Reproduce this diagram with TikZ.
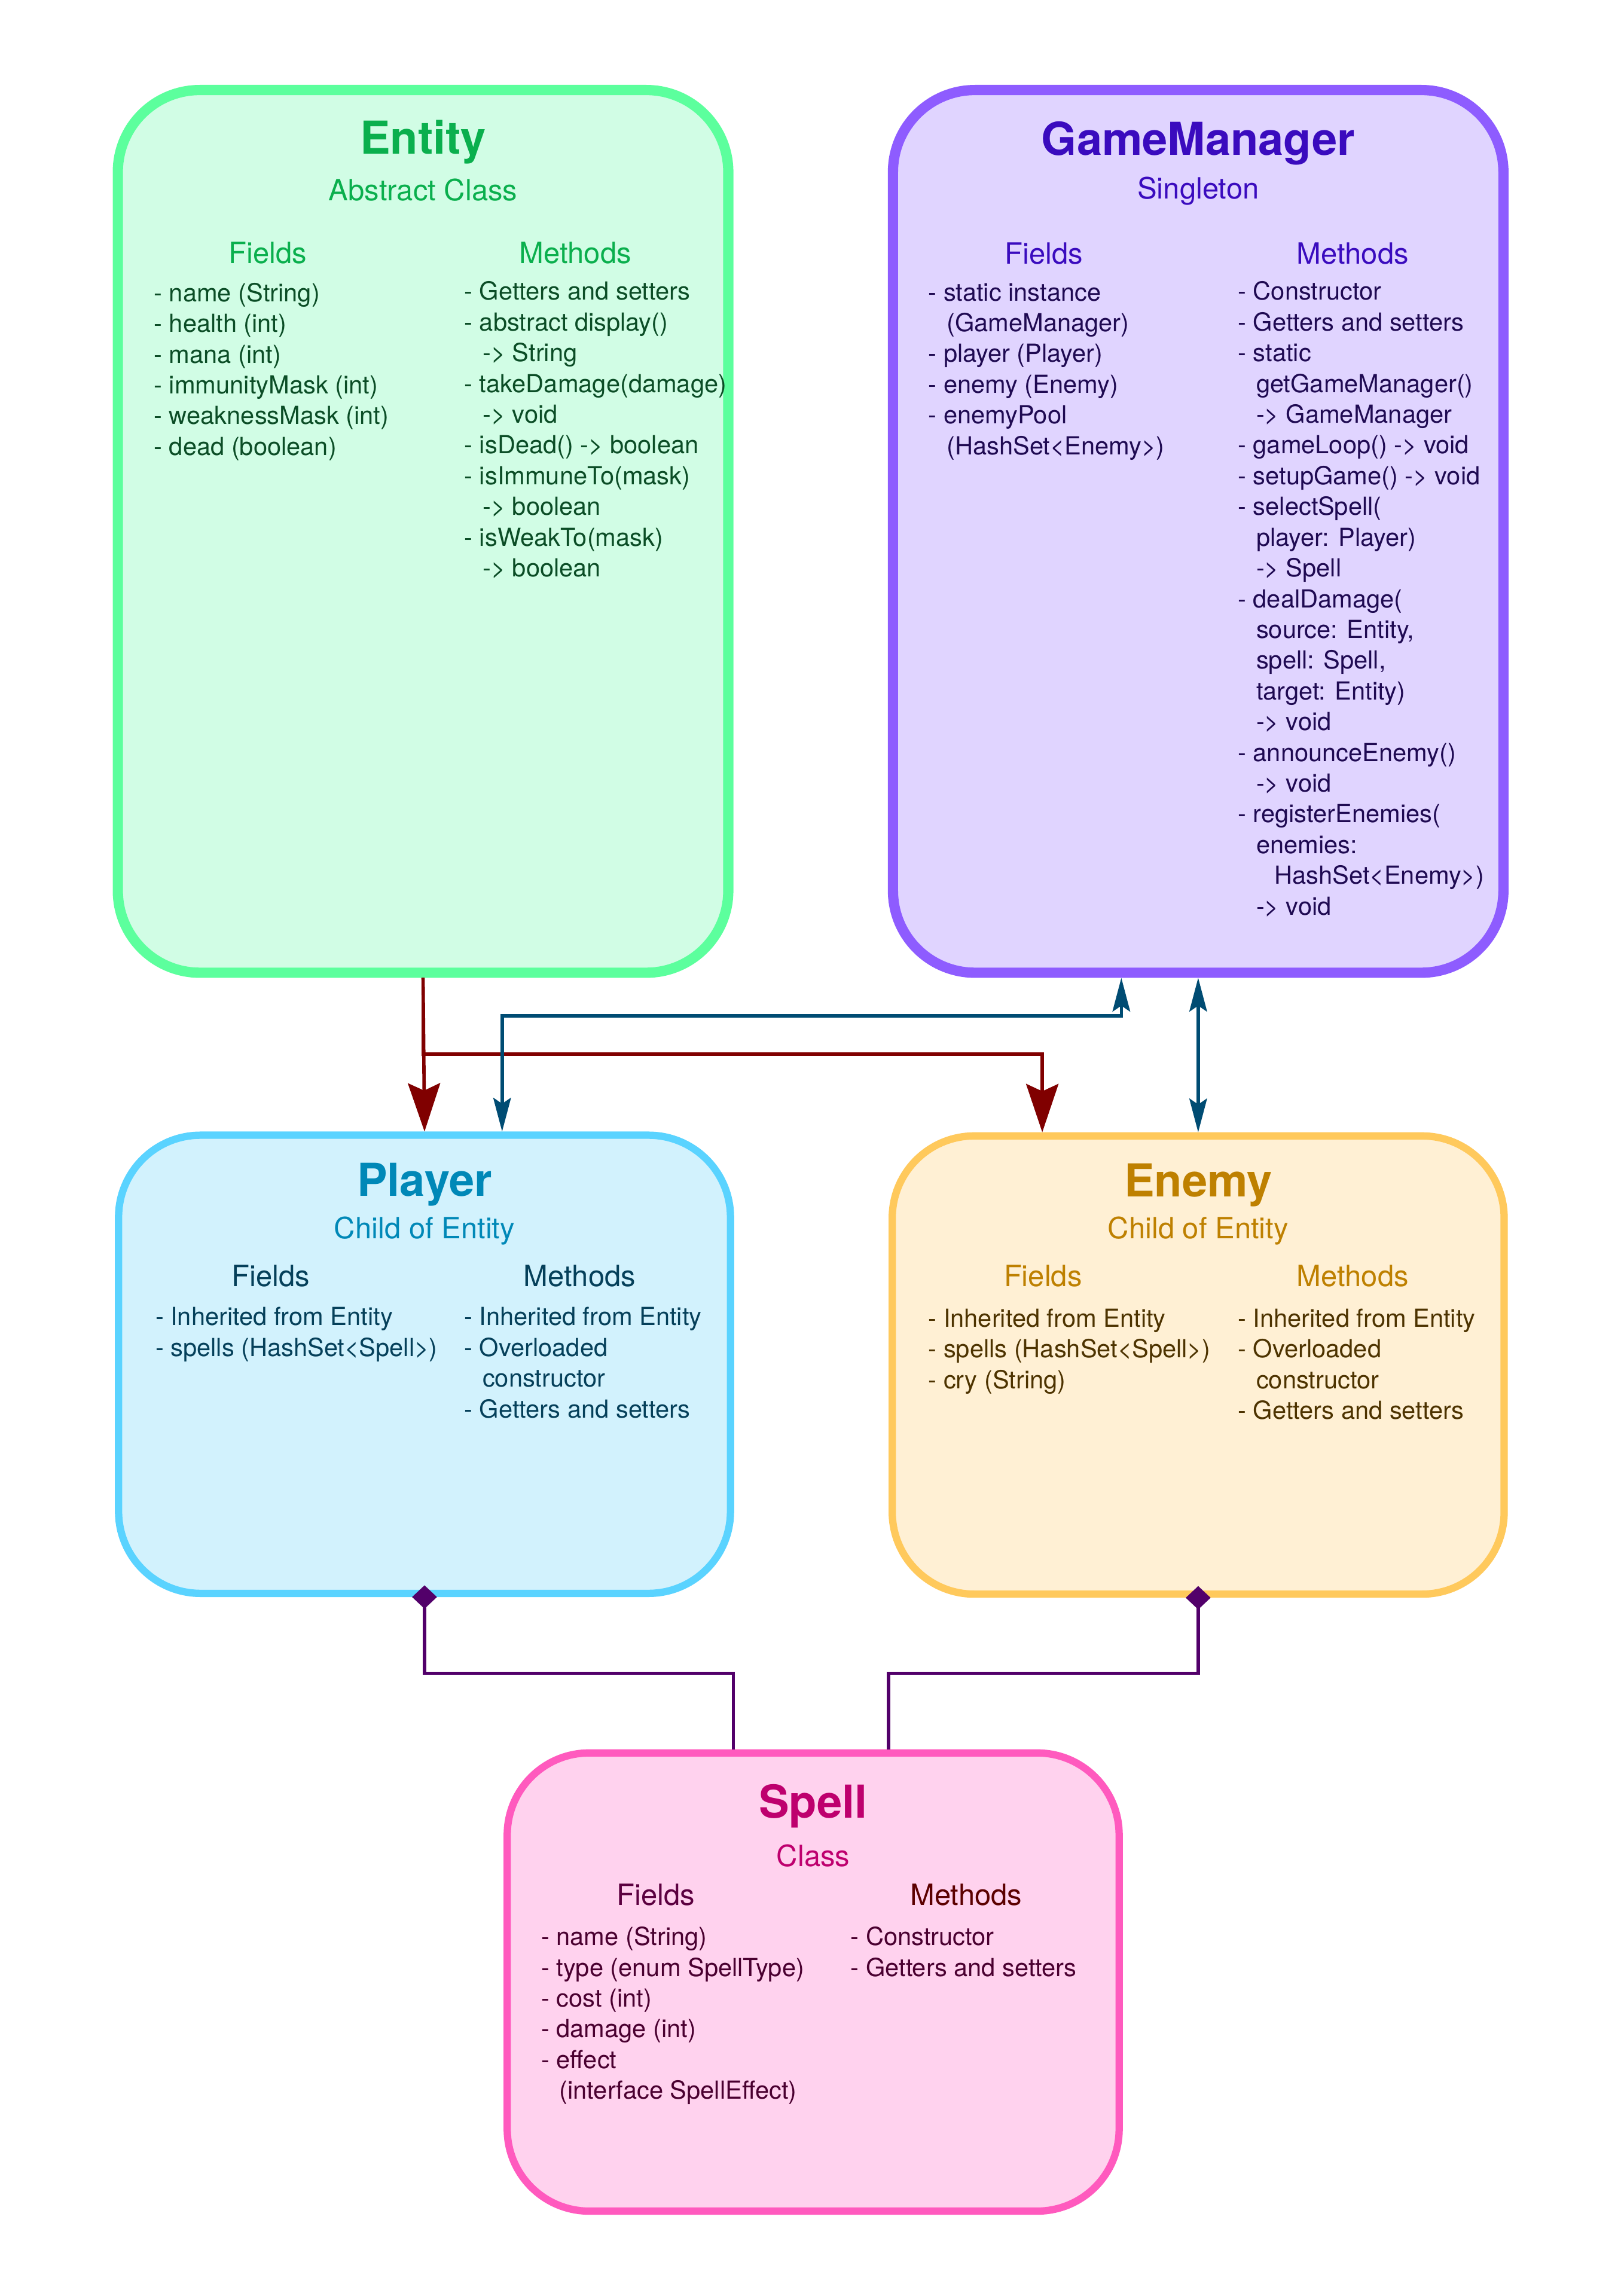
\documentclass[tikz,border=0pt]{standalone}
\usepackage{fontspec}
\setmainfont{TeX Gyre Heros}
\usetikzlibrary{arrows.meta,calc}
\definecolor{entStroke}{HTML}{5CFF9D}
\definecolor{entFill}{HTML}{D1FDE5}
\definecolor{entTitle}{HTML}{0AAF4D}
\definecolor{entText}{HTML}{0B4D26}
\definecolor{gmStroke}{HTML}{8E5CFF}
\definecolor{gmFill}{HTML}{E0D4FF}
\definecolor{gmTitle}{HTML}{3A0BBE}
\definecolor{gmText}{HTML}{1F0A52}
\definecolor{plStroke}{HTML}{5AD3FF}
\definecolor{plFill}{HTML}{D2F2FD}
\definecolor{plTitle}{HTML}{0088B7}
\definecolor{plText}{HTML}{05405A}
\definecolor{enStroke}{HTML}{FFC95C}
\definecolor{enFill}{HTML}{FFF0D4}
\definecolor{enTitle}{HTML}{BE8000}
\definecolor{enText}{HTML}{4D3300}
\definecolor{spStroke}{HTML}{FF5ABE}
\definecolor{spFill}{HTML}{FFD2EE}
\definecolor{spTitle}{HTML}{BE006E}
\definecolor{spFields}{HTML}{5C0040}
\definecolor{spMethods}{HTML}{5C0000}
\definecolor{spText}{HTML}{4A0030}
\definecolor{redArrow}{HTML}{800000}
\definecolor{blueArrow}{HTML}{004C73}
\definecolor{purArrow}{HTML}{52006A}
\newcommand\ind{\hspace*{12.5pt}}
\newcommand\itemrows[5]{%
  \foreach \t [count=\i from 0] in {#5} {%
    \node[itm, text=#4] (#1-\i) at (#2, {#3+21*\i}) {\t};}}
\begin{document}
\begin{tikzpicture}[x=1pt,y=-1pt,
  box/.style={rounded corners=56pt, inner sep=0pt},
  tallbox/.style={box, line width=7pt, minimum width=417pt, minimum height=603pt},
  shortbox/.style={box, line width=5pt, minimum width=418pt, minimum height=313pt},
  ttl/.style={font=\fontsize{31}{36}\selectfont\bfseries, anchor=base, inner sep=0pt},
  sub/.style={font=\fontsize{20}{24}\selectfont, anchor=base, inner sep=0pt},
  hdg/.style={font=\fontsize{20}{24}\selectfont, anchor=base, inner sep=0pt},
  itm/.style={font=\fontsize{17}{21}\selectfont, anchor=base west, inner sep=0pt},
  conn/.style={line width=2.3pt},
  inherit/.style={conn, draw=redArrow, -{Stealth[length=33pt,width=22pt,inset=5pt]}},
  assoc/.style={conn, draw=blueArrow, {Stealth[length=23pt,width=12pt,inset=4pt]}-{Stealth[length=23pt,width=12pt,inset=4pt]}},
  compose/.style={conn, draw=purArrow, {Diamond[length=16pt,width=17pt]}-, shorten <=-8pt}
]
\useasboundingbox (0,0) rectangle (1109,1568.5);
\fill[white] (0,0) rectangle (1109,1568.5);

% boxes
\node[tallbox, draw=entStroke, fill=entFill] (entity) at (289,363) {};
\node[tallbox, draw=gmStroke, fill=gmFill] (gm) at (818.5,363) {};
\node[shortbox, draw=plStroke, fill=plFill] (player) at (290,932) {};
\node[shortbox, draw=enStroke, fill=enFill] (enemy) at (818.5,932.5) {};
\node[shortbox, draw=spStroke, fill=spFill] (spell) at (555.5,1354) {};

% Entity
\node[ttl, text=entTitle] (entity-title) at (289,105) {Entity};
\node[sub, text=entTitle] (entity-sub) at (289,137) {Abstract Class};
\node[hdg, text=entTitle] (entity-fh) at (183,180) {Fields};
\node[hdg, text=entTitle] (entity-mh) at (393,180) {Methods};
\itemrows{entf}{105}{206}{entText}{{- name (String)},{- health (int)},{- mana (int)},{- immunityMask (int)},{- weaknessMask (int)},{- dead (boolean)}}
\itemrows{entm}{317}{205}{entText}{{- Getters and setters},{- abstract display()},{\ind-> String},{- takeDamage(damage)},{\ind-> void},{- isDead() -> boolean},{- isImmuneTo(mask)},{\ind-> boolean},{- isWeakTo(mask)},{\ind-> boolean}}

% GameManager
\node[ttl, text=gmTitle] (gm-title) at (818.5,106) {GameManager};
\node[sub, text=gmTitle] (gm-sub) at (818.5,136) {Singleton};
\node[hdg, text=gmTitle] (gm-fh) at (713,180.5) {Fields};
\node[hdg, text=gmTitle] (gm-mh) at (924,180.5) {Methods};
\itemrows{gmf}{634}{205.5}{gmText}{{- static instance},{\ind(GameManager)},{- player (Player)},{- enemy (Enemy)},{- enemyPool},{\ind(HashSet<Enemy>)}}
\itemrows{gmm}{845.5}{205}{gmText}{{- Constructor},{- Getters and setters},{- static},{\ind getGameManager()},{\ind-> GameManager},{- gameLoop() -> void},{- setupGame() -> void},{- selectSpell(},{\ind player: Player)},{\ind-> Spell},{- dealDamage(},{\ind source: Entity,},{\ind spell: Spell,},{\ind target: Entity)},{\ind-> void},{- announceEnemy()},{\ind-> void},{- registerEnemies(},{\ind enemies:},{\ind\ind HashSet<Enemy>)},{\ind-> void}}

% Player
\node[ttl, text=plTitle] (player-title) at (290,817) {Player};
\node[sub, text=plTitle] (player-sub) at (290,846) {Child of Entity};
\node[hdg, text=plText] (player-fh) at (185,879) {Fields};
\node[hdg, text=plText] (player-mh) at (396,879) {Methods};
\itemrows{plf}{106}{905.5}{plText}{{- Inherited from Entity},{- spells (HashSet<Spell>)}}
\itemrows{plm}{317}{905.5}{plText}{{- Inherited from Entity},{- Overloaded},{\ind constructor},{- Getters and setters}}

% Enemy
\node[ttl, text=enTitle] (enemy-title) at (818.5,817.5) {Enemy};
\node[sub, text=enTitle] (enemy-sub) at (818.5,846) {Child of Entity};
\node[hdg, text=enTitle] (enemy-fh) at (712.5,879) {Fields};
\node[hdg, text=enTitle] (enemy-mh) at (924,879) {Methods};
\itemrows{enf}{634}{906.5}{enText}{{- Inherited from Entity},{- spells (HashSet<Spell>)},{- cry (String)}}
\itemrows{enm}{845.5}{906.5}{enText}{{- Inherited from Entity},{- Overloaded},{\ind constructor},{- Getters and setters}}

% Spell
\node[ttl, text=spTitle] (spell-title) at (555.5,1242) {Spell};
\node[sub, text=spTitle] (spell-sub) at (555.5,1275) {Class};
\node[hdg, text=spFields] (spell-fh) at (448,1301.5) {Fields};
\node[hdg, text=spMethods] (spell-mh) at (660,1301.5) {Methods};
\itemrows{spf}{369.5}{1329}{spText}{{- name (String)},{- type (enum SpellType)},{- cost (int)},{- damage (int)},{- effect},{\ind(interface SpellEffect)}}
\itemrows{spm}{581}{1329}{spText}{{- Constructor},{- Getters and setters}}

% connectors
\coordinate (rj) at (712,720);
\coordinate (bj1) at (343,694);
\coordinate (bj2) at (766,694);
\coordinate (pj1) at (501,1143);
\coordinate (pj2) at (607,1143);

\draw[inherit] (entity.south) -- (player.north);
\draw[inherit] (entity.south) |- (rj) -- (rj |- enemy.north);
\draw[assoc] (bj1 |- player.north) -- (bj1) -- (bj2) -- (bj2 |- gm.south);
\draw[assoc] (gm.south) -- (enemy.north);
\draw[compose] (player.south) |- (pj1) -- (pj1 |- spell.north);
\draw[compose] (enemy.south) |- (pj2) -- (pj2 |- spell.north);
\end{tikzpicture}
\end{document}
